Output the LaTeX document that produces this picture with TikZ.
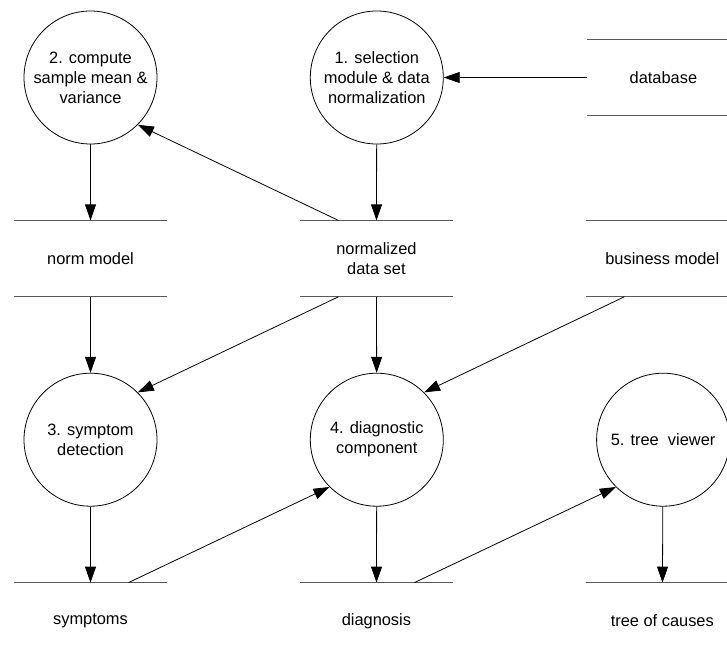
\documentclass[tikz,border=0pt]{standalone}
\usepackage{fontspec}
\setmainfont{Liberation Sans}
\usetikzlibrary{positioning,arrows.meta}

\begin{document}
\begin{tikzpicture}[x=1pt, y=1pt, node distance = 76pt,
  >={Triangle[length=16pt,width=11pt]},
  every node/.style = {font = \fontsize{16.4}{20}\selectfont},
  proc/.style = {circle, draw=black, line width=0.8pt, minimum size=133pt,
    inner sep=0pt, align=center},
  store/.style = {rectangle, minimum width=153pt, minimum height=76pt,
    inner sep=0pt, align=center},
  storeline/.style = {black!65, line width=1.2pt},
  flow/.style = {black, line width=0.8pt}]
  \useasboundingbox (0,0) rectangle (727,-656);
  \clip (0,0) rectangle (727,-656);

  \node[proc] (sampl) at (90.5,-77.5) {2. compute\\sample mean \&\\variance};
  \node[store] (norm)   [below = of sampl] {norm model};
  \node[proc]  (sympt)  [below = of norm]  {3. symptom\\detection};
  \node[store] (symps)  [below = of sympt] {symptoms};

  \node[proc]  (select) [right = 152.5pt of sampl] {1. selection\\module \& data\\normalization};
  \node[store] (ndata)  [right = 132.5pt of norm]  {normalized\\data set};
  \node[proc]  (diagc)  [right = 152.5pt of sympt] {4. diagnostic\\component};
  \node[store] (diagn)  [right = 132.5pt of symps] {diagnosis};

  \node[store] (dbase)  [right = 143pt of select]  {database};
  \node[store] (bmodel) [right = 132.5pt of ndata] {business model};
  \node[proc]  (viewer) [right = 152.5pt of diagc] {5. tree\ \ viewer};
  \node[store] (causes) [right = 132.5pt of diagn] {tree of causes};

  \coordinate [left = 38pt of ndata.north] (ndTop);
  \coordinate [left = 38pt of ndata.south] (ndBot);
  \coordinate [left = 38pt of bmodel.south] (bmBot);
  \coordinate [right = 38pt of symps.north] (syTop);
  \coordinate [right = 38pt of diagn.north] (dgTop);

  \draw [storeline]
    (dbase.north west) -- (dbase.north east)  (dbase.south west) -- (dbase.south east)
    (norm.north west) -- (norm.north east)    (norm.south west) -- (norm.south east)
    (ndata.north west) -- (ndata.north east)  (ndata.south west) -- (ndata.south east)
    (bmodel.north west) -- (bmodel.north east) (bmodel.south west) -- (bmodel.south east)
    (symps.north west) -- (symps.north east)
    (diagn.north west) -- (diagn.north east)
    (causes.north west) -- (causes.north east);

  \path[->, flow]
  (dbase.west) edge (select)
  (select) edge (ndata)
  (ndTop) edge (sampl.-45)
  (sampl) edge (norm)
  (norm) edge (sympt)
  (ndBot) edge (sympt.45)
  (ndata) edge (diagc)
  (bmBot) edge (diagc.45)
  (sympt) edge (symps)
  (syTop) edge (diagc.225)
  (diagc) edge (diagn)
  (dgTop) edge (viewer.225)
  (viewer) edge (causes);

\end{tikzpicture}
\end{document}
